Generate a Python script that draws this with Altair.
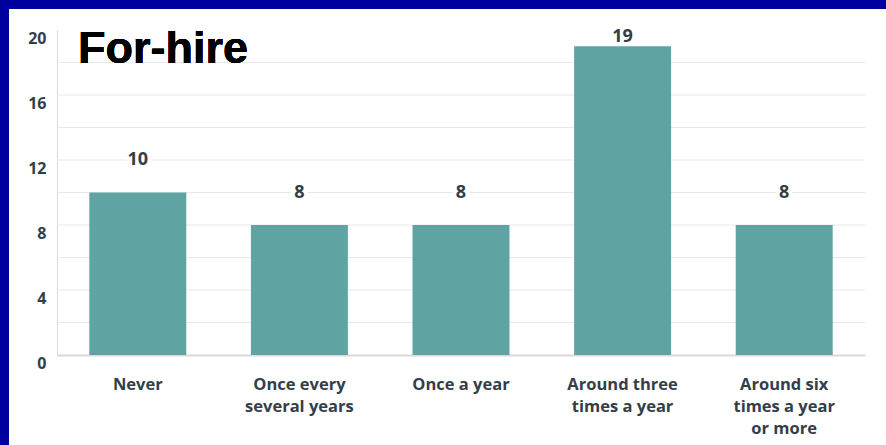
import altair as alt
import pandas as pd

categories = ["Never", "Once every\nseveral years", "Once a year", "Around three\ntimes a year", "Around six\ntimes a year\nor more"]
values = [10, 8, 8, 19, 8]
y_ticks = [0, 4, 8, 12, 16, 20]
grid_values = [2, 4, 6, 8, 10, 12, 14, 16, 18]
title_text = "For-hire"

df = pd.DataFrame({"cat": categories, "value": values})
grid_df = pd.DataFrame({"g": grid_values})

W, H = 808, 325
TEXT = "#333e48"
FONT = "Open Sans"

x_enc = alt.X("cat:N", sort=categories,
              scale=alt.Scale(paddingInner=0.4, paddingOuter=0.2),
              axis=alt.Axis(title=None, labelAngle=0, labelFont=FONT, labelFontSize=16.5,
                            labelFontWeight="bold", labelColor=TEXT, labelPadding=21,
                            labelLineHeight=22, labelBaseline="top",
                            domain=True, domainColor="#d9d9d9", domainWidth=2,
                            ticks=False, labelExpr="split(datum.label, '\\n')"))
y_scale = alt.Scale(domain=[0, 20], nice=False)
y_axis = alt.Axis(title=None, values=y_ticks, grid=False, ticks=False,
                  domain=True, domainColor="#d9d9d9", domainWidth=1,
                  labelFont=FONT, labelFontSize=16, labelFontWeight="bold",
                  labelColor=TEXT, labelPadding=11, labelBaseline="top")

grid = alt.Chart(grid_df).mark_rule(color="#e8e8e8", strokeWidth=1).encode(
    y=alt.Y("g:Q", scale=y_scale, axis=y_axis)
)

bars = alt.Chart(df).mark_bar(color="#5fa3a3").encode(
    x=x_enc,
    y=alt.Y("value:Q", scale=y_scale, axis=y_axis),
)

label_base = alt.Chart(df).transform_calculate(
    pos="min(datum.value + 2, 19.6)"
).encode(
    x=alt.X("cat:N", sort=categories),
    y=alt.Y("pos:Q", scale=y_scale),
    text=alt.Text("value:Q"),
)
halo = label_base.mark_text(font=FONT, fontSize=18, fontWeight="bold", color="white",
                            stroke="white", strokeWidth=8, baseline="middle")
labels = label_base.mark_text(font=FONT, fontSize=18, fontWeight="bold", color=TEXT,
                              baseline="middle")

title = alt.Chart(df).mark_text(font="Liberation Sans", fontSize=45, fontWeight="bold",
                                color="black", align="left", baseline="alphabetic").encode(
    x=alt.value(21), y=alt.value(33), text=alt.value(title_text)
)

border_left = alt.Chart(df).mark_rule(color="#00009c", strokeWidth=9).encode(
    x=alt.value(-52.5), y=alt.value(-30), y2=alt.value(420)
)
border_top = alt.Chart(df).mark_rule(color="#00009c", strokeWidth=9).encode(
    y=alt.value(-25.5), x=alt.value(-57), x2=alt.value(840)
)

chart = alt.layer(grid, bars, halo, labels, title, border_left, border_top).properties(
    width=W, height=H,
    autosize=alt.AutoSizeParams(type="none"),
    padding={"left": 57, "top": 30, "right": 21, "bottom": 90},
    background="white",
).configure_view(stroke=None)

chart.save("out.html", embed_options={"renderer": "svg", "actions": False})
